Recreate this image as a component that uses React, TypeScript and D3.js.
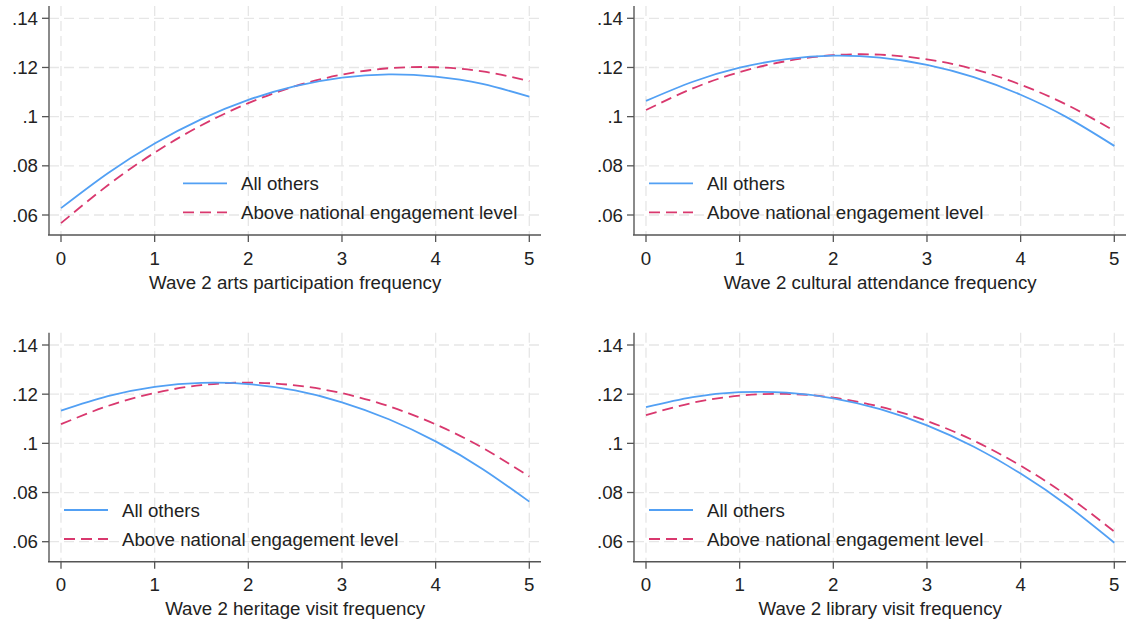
import React from 'react';
import * as d3 from 'd3';

// x grid used for every curve (frequency 0..5, read at half steps)
const xSteps = [0, 0.5, 1, 1.5, 2, 2.5, 3, 3.5, 4, 4.5, 5];

const artsOthers = [0.0628, 0.0770, 0.0891, 0.0990, 0.1068, 0.1124, 0.1159, 0.1172, 0.1163, 0.1133, 0.1081];
const artsAbove = [0.0567, 0.0721, 0.0854, 0.0965, 0.1055, 0.1124, 0.1171, 0.1197, 0.1201, 0.1184, 0.1145];

const culturalOthers = [0.1064, 0.1142, 0.1199, 0.1234, 0.1248, 0.1240, 0.1211, 0.1161, 0.1089, 0.0996, 0.0881];
const culturalAbove = [0.1027, 0.1115, 0.1181, 0.1226, 0.1250, 0.1252, 0.1233, 0.1193, 0.1130, 0.1047, 0.0942];

const heritageOthers = [0.1133, 0.1192, 0.1230, 0.1246, 0.1241, 0.1215, 0.1167, 0.1098, 0.1008, 0.0896, 0.0763];
const heritageAbove = [0.1078, 0.1152, 0.1205, 0.1237, 0.1247, 0.1236, 0.1204, 0.1151, 0.1077, 0.0982, 0.0865];

const libraryOthers = [0.1147, 0.1188, 0.1208, 0.1206, 0.1183, 0.1139, 0.1073, 0.0986, 0.0877, 0.0747, 0.0596];
const libraryAbove = [0.1115, 0.1165, 0.1194, 0.1201, 0.1186, 0.1149, 0.1091, 0.1011, 0.0909, 0.0786, 0.0641];

const xTicks = [0, 1, 2, 3, 4, 5];
const yTicks = [0.06, 0.08, 0.1, 0.12, 0.14];
const yTickLabels = ['.06', '.08', '.1', '.12', '.14'];

const seriesNames = ['All others', 'Above national engagement level'];

const panels = [
  { title: 'Wave 2 arts participation frequency', others: artsOthers, above: artsAbove },
  { title: 'Wave 2 cultural attendance frequency', others: culturalOthers, above: culturalAbove },
  { title: 'Wave 2 heritage visit frequency', others: heritageOthers, above: heritageAbove },
  { title: 'Wave 2 library visit frequency', others: libraryOthers, above: libraryAbove },
];

const W = 1126;
const H = 624;
const BLUE = '#52a0f4';
const PINK = '#d9386e';
const FONT = '"Liberation Sans", Arial, sans-serif';

export default function App() {
  const ref = React.useRef<SVGSVGElement>(null);

  React.useEffect(() => {
    if (!ref.current) return;
    const svg = d3.select(ref.current);
    svg.selectAll('*').remove();

    // panel placement (axis origin + offsets)
    const colX = [49, 634];
    const rowY = [18.3, 345];
    // legend spot in each panel (relative to y axis); first panel sits further right
    const legendX = [134, 15, 15, 15];

    panels.forEach((p, i) => {
      const left = colX[i % 2];
      const top14 = rowY[Math.floor(i / 2)];
      const g = svg.append('g');

      const x = d3.scaleLinear().domain([0, 5]).range([left + 12, left + 480.3]);
      const y = d3.scaleLinear().domain([0.06, 0.14]).range([top14 + 196.7, top14]);
      const plotRight = left + 492;
      const plotTop = y(0.145);
      const plotBottom = top14 + 216.7;

      // grid
      g.append('g')
        .selectAll('line')
        .data(yTicks)
        .join('line')
        .attr('x1', left)
        .attr('x2', plotRight)
        .attr('y1', d => y(d))
        .attr('y2', d => y(d))
        .attr('stroke', '#e6e6e6')
        .attr('stroke-width', 1.3)
        .attr('stroke-dasharray', '10,5');
      g.append('g')
        .selectAll('line')
        .data(xTicks)
        .join('line')
        .attr('x1', d => x(d))
        .attr('x2', d => x(d))
        .attr('y1', plotTop)
        .attr('y2', plotBottom)
        .attr('stroke', '#e6e6e6')
        .attr('stroke-width', 1.3)
        .attr('stroke-dasharray', '10,5');

      // curves
      const line = d3.line<number>()
        .x((_, j) => x(xSteps[j]))
        .y(d => y(d))
        .curve(d3.curveNatural);

      g.append('path')
        .attr('d', line(p.above))
        .attr('fill', 'none')
        .attr('stroke', PINK)
        .attr('stroke-width', 1.8)
        .attr('stroke-dasharray', '11,6');
      g.append('path')
        .attr('d', line(p.others))
        .attr('fill', 'none')
        .attr('stroke', BLUE)
        .attr('stroke-width', 1.8);

      // axes
      g.append('line')
        .attr('x1', left).attr('x2', left)
        .attr('y1', plotTop).attr('y2', plotBottom)
        .attr('stroke', '#8a8a8a').attr('stroke-width', 2);
      g.append('line')
        .attr('x1', left - 1).attr('x2', plotRight)
        .attr('y1', plotBottom).attr('y2', plotBottom)
        .attr('stroke', '#555').attr('stroke-width', 1.5);

      yTicks.forEach((t, k) => {
        g.append('line')
          .attr('x1', left - 7).attr('x2', left)
          .attr('y1', y(t)).attr('y2', y(t))
          .attr('stroke', '#555').attr('stroke-width', 1.3);
        g.append('text')
          .attr('x', left - 11)
          .attr('y', y(t))
          .attr('dy', '0.35em')
          .attr('text-anchor', 'end')
          .text(yTickLabels[k]);
      });
      xTicks.forEach(t => {
        g.append('line')
          .attr('x1', x(t)).attr('x2', x(t))
          .attr('y1', plotBottom).attr('y2', plotBottom + 7)
          .attr('stroke', '#555').attr('stroke-width', 1.3);
        g.append('text')
          .attr('x', x(t))
          .attr('y', plotBottom + 23)
          .attr('dy', '0.35em')
          .attr('text-anchor', 'middle')
          .text(String(t));
      });

      g.append('text')
        .attr('x', (x(0) + x(5)) / 2)
        .attr('y', plotBottom + 47)
        .attr('dy', '0.35em')
        .attr('text-anchor', 'middle')
        .text(p.title);

      // legend
      const lx = left + legendX[i];
      const ly = top14 + 165;
      [BLUE, PINK].forEach((c, k) => {
        g.append('line')
          .attr('x1', lx).attr('x2', lx + 44)
          .attr('y1', ly + k * 29).attr('y2', ly + k * 29)
          .attr('stroke', c)
          .attr('stroke-width', 1.8)
          .attr('stroke-dasharray', k === 1 ? '11,6' : null);
        g.append('text')
          .attr('x', lx + 58)
          .attr('y', ly + k * 29)
          .attr('dy', '0.35em')
          .text(seriesNames[k]);
      });
    });
  }, []);

  return (
    <div style={{ position: 'absolute', left: 0, top: 0, width: W, height: H, background: '#fff' }}>
      <svg
        ref={ref}
        width={W}
        height={H}
        style={{ display: 'block', fontFamily: FONT, fontSize: 18.7, fill: '#222' }}
      />
    </div>
  );
}
